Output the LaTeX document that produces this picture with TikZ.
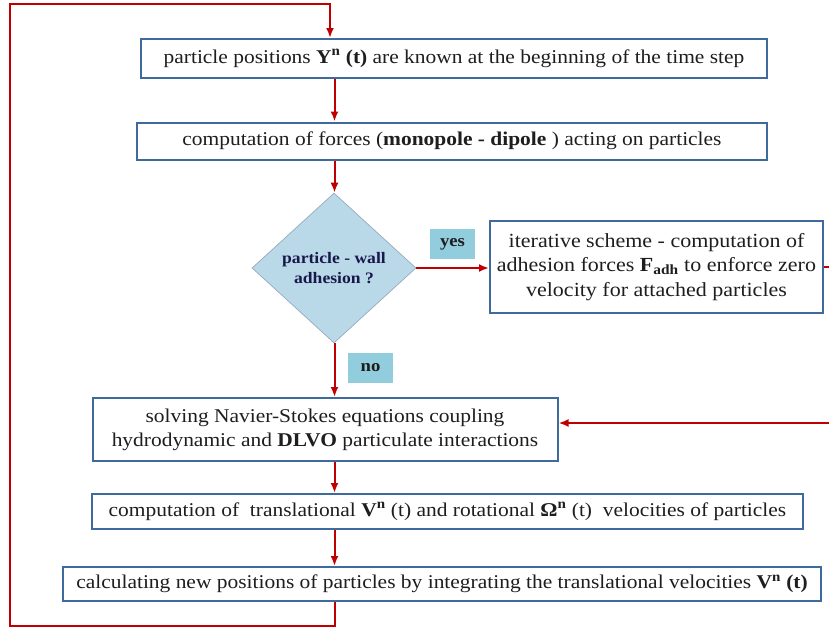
\documentclass[tikz,border=0pt]{standalone}
\usepackage{fontspec}
\setmainfont{Liberation Serif}[FakeStretch=1.1]
\usetikzlibrary{positioning,shapes.geometric,calc,arrows.meta}

\definecolor{boxblue}{RGB}{62,106,158}
\definecolor{flowred}{RGB}{192,0,0}
\definecolor{decfill}{RGB}{186,217,232}
\definecolor{decline}{RGB}{150,170,190}
\definecolor{tagfill}{RGB}{146,205,221}
\definecolor{inktext}{RGB}{30,30,30}

\begin{document}
\begin{tikzpicture}[
  x=1pt, y=-1pt,
  stage/.style={
    draw=boxblue,
    line width=2pt,
    fill=white,
    align=center,
    inner sep=0pt,
    text=inktext,
    font=\fontsize{19.5}{24}\selectfont
  },
  decision/.style={
    diamond,
    draw=decline,
    line width=0.7pt,
    fill=decfill,
    align=center,
    inner sep=0pt,
    text=inktext!80!blue,
    font=\fontsize{16}{20}\selectfont\bfseries
  },
  tag/.style={
    fill=tagfill,
    inner sep=0pt,
    minimum width=45pt,
    minimum height=30pt,
    text=inktext,
    font=\fontsize{17}{20}\selectfont\bfseries
  },
  flow/.style={
    ->,
    draw=flowred,
    line width=2pt
  },
  >={Latex[length=10pt,width=8pt]}
]
\useasboundingbox (0,0) rectangle (829,632);
\clip (0,0) rectangle (829,632);

\node[stage, minimum width=626pt, minimum height=39pt] (known) at (454,58.5)
  {particle positions \textbf{Y\textsuperscript{n} (t)} are known at the beginning of the time step};
\node[stage, minimum width=630pt, minimum height=37pt] (forces) at (452,141)
  {computation of forces (\textbf{monopole - dipole} ) acting on particles};
\node[decision, minimum width=164pt, minimum height=150pt, aspect=1.09] (adhesion) at (334,268)
  {particle - wall\\adhesion ?};
\node[stage, minimum width=333pt, minimum height=92pt, font=\fontsize{20}{24.5}\selectfont] (iterate) at (656.5,267)
  {iterative scheme - computation of\\adhesion forces \textbf{F\textsubscript{adh}} to enforce zero\\velocity for attached particles};
\node[stage, minimum width=465pt, minimum height=63pt] (navier) at (325,429.5)
  {solving Navier-Stokes equations coupling\\hydrodynamic and \textbf{DLVO} particulate interactions};
\node[stage, minimum width=711pt, minimum height=35pt] (velocity) at (447.5,511.5)
  {computation of\ \ translational \textbf{V\textsuperscript{n}} (t) and rotational \textbf{Ω\textsuperscript{n}} (t)\ \ velocities of particles};
\node[stage, minimum width=758pt, minimum height=34pt] (update) at (442,584)
  {calculating new positions of particles by integrating the translational velocities \textbf{V\textsuperscript{n} (t)}};

\node[tag] (yeslbl) at (452.5,244) {yes};
\node[tag] (nolbl) at (370.5,368) {no};

% helper points for the red connectors
\coordinate (spine) at (334.5,0);
\coordinate (topin) at (330,0);
\coordinate (loopbl) at (10,626);
\coordinate (looptl) at (10,4);
\coordinate (rightx) at (836,423);

\draw[flow] (known.south -| spine) -- (forces.north -| spine);
\draw[flow] (forces.south -| spine) -- (adhesion.north -| spine);
\draw[flow] (adhesion.east) -- (adhesion.east -| iterate.west);
\draw[flow] (adhesion.south -| spine) -- (navier.north -| spine);
\draw[flow] (iterate.east) -| (rightx) -- ([yshift=6.5pt]navier.east);
\draw[flow] (navier.south -| spine) -- (velocity.north -| spine);
\draw[flow] (velocity.south -| spine) -- (update.north -| spine);
\draw[flow] (update.south -| spine) |- (loopbl) -- (looptl) -| (known.north -| topin);
\end{tikzpicture}
\end{document}
